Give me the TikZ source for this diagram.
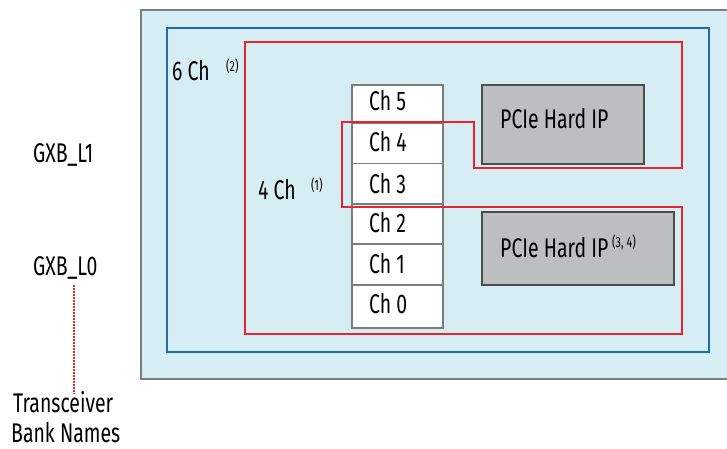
\documentclass[tikz,border=0pt]{standalone}
\usepackage{fontspec}
\setmainfont[FakeStretch=0.72]{Fira Sans}
\definecolor{bgblue}{HTML}{D6EDF4}
\definecolor{bankblue}{HTML}{1F6BAE}
\definecolor{selred}{HTML}{E8252D}
\definecolor{hipgray}{HTML}{BDBEC0}
\definecolor{edgegray}{HTML}{7A7C7E}
\tikzset{
  lbl/.style={anchor=base west,inner sep=0pt,font=\fontsize{27}{30}\selectfont},
  note/.style={anchor=base west,inner sep=0pt,font=\fontsize{15}{17}\selectfont},
  chbox/.style={draw=edgegray,fill=white,line width=1.2pt},
  hip/.style={draw=black!70,fill=hipgray,line width=1.2pt},
  selline/.style={draw=selred,line width=1.3pt},
}
\begin{document}
\begin{tikzpicture}[x=1pt,y=-1pt]
\useasboundingbox (0,0) rectangle (727,449);
\clip (0,0) rectangle (727,449);
% outer device box
\draw[draw=edgegray,fill=bgblue,line width=1.3pt] (141,10) rectangle (740,379);
% bank box
\draw[draw=bankblue,line width=1.3pt] (167,28) rectangle (709,352);
% channel column
\draw[chbox] (352,85) rectangle (443,123.5);
\draw[chbox] (352,123.5) rectangle (443,163.5);
\draw[chbox] (352,163.5) rectangle (443,204);
\draw[chbox] (352,204) rectangle (443,244);
\draw[chbox] (352,244) rectangle (443,285);
\draw[chbox] (352,285) rectangle (443,328);
% PCIe hard IP blocks
\draw[hip] (482,85) rectangle (644,164);
\draw[hip] (482,212) rectangle (674,285);
% red selection outlines
\draw[selline] (245,42) -- (682,42) -- (682,168) -- (474,168) -- (474,122)
  -- (342,122) -- (342,207) -- (682,207) -- (682,334) -- (245,334) -- cycle;
% labels
\node[lbl] (ch6) at (172,81) {6 Ch};
\node[note] (n2) at (226,72) {(2)};
\node[lbl] (ch4) at (258,199) {4 Ch};
\node[note] (n1) at (311,190) {(1)};
\node[lbl] (c5) at (369,111) {Ch 5};
\node[lbl] (c4) at (369,152) {Ch 4};
\node[lbl] (c3) at (369,193) {Ch 3};
\node[lbl] (c2) at (369,232) {Ch 2};
\node[lbl] (c1) at (369,273) {Ch 1};
\node[lbl] (c0) at (369,313) {Ch 0};
\node[lbl] (p1) at (500,129) {PCIe Hard IP};
\node[lbl] (p0) at (500,257) {PCIe Hard IP};
\node[note] (n34) at (612,247) {(3, 4)};
\node[lbl] (l1) at (33,162) {GXB\_L1};
\node[lbl] (l0) at (33,275) {GXB\_L0};
\node[lbl] (tb1) at (13,412) {Transceiver};
\node[lbl] (tb2) at (11,442) {Bank Names};
\coordinate (d1) at (74,285);
\coordinate (d2) at (74,394);
\draw[selred,line width=1.6pt,dash pattern=on 1.6pt off 1.4pt] (d1) -- (d2);
\end{tikzpicture}
\end{document}
